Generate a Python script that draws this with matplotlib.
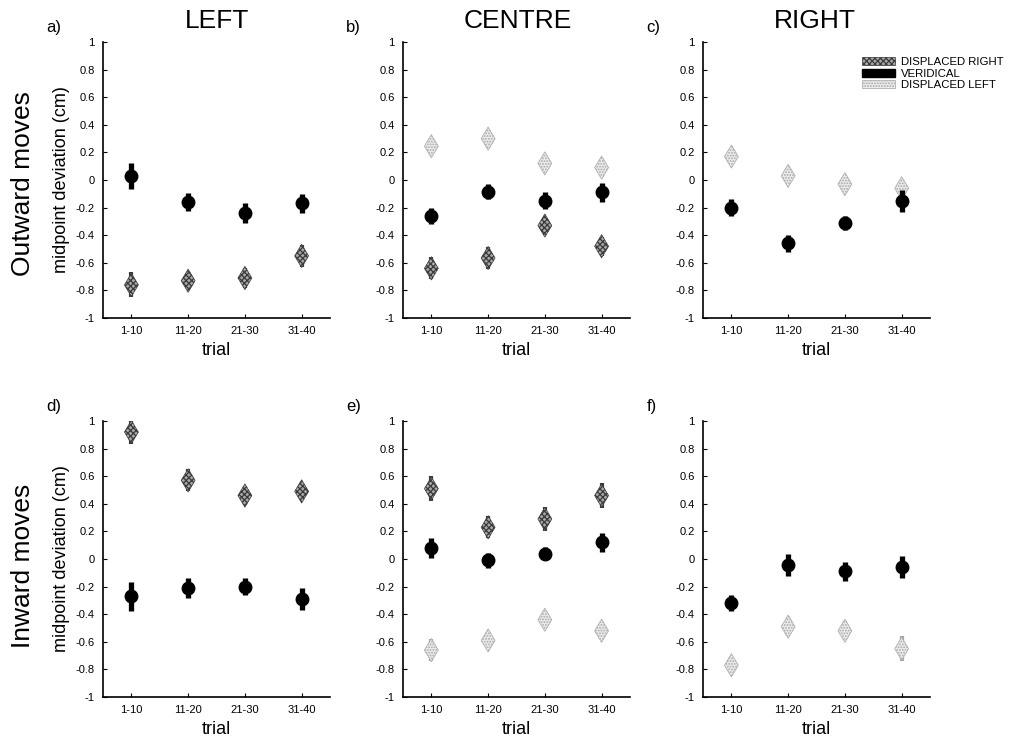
import numpy as np
import matplotlib
matplotlib.use("Agg")
import matplotlib.pyplot as plt
from matplotlib.patches import Patch

plt.rcParams["font.family"] = ["Liberation Sans", "DejaVu Sans"]
plt.rcParams["hatch.linewidth"] = 0.9


# DADOS

trials = ["1-10", "11-20", "21-30", "31-40"]
y_ticks = [1, 0.8, 0.6, 0.4, 0.2, 0, -0.2, -0.4, -0.6, -0.8, -1]
y_tick_labels = ["1", "0.8", "0.6", "0.4", "0.2", "0",
                 "-0.2", "-0.4", "-0.6", "-0.8", "-1"]

# a) outward, LEFT
a_right = [-0.76, -0.73, -0.71, -0.55]
a_right_err = [0.09, 0.06, 0.07, 0.08]
a_ver = [0.03, -0.16, -0.24, -0.17]
a_ver_err = [0.095, 0.065, 0.075, 0.07]

# b) outward, CENTRE
b_right = [-0.64, -0.565, -0.33, -0.48]
b_right_err = [0.08, 0.08, 0.05, 0.07]
b_ver = [-0.26, -0.085, -0.15, -0.09]
b_ver_err = [0.06, 0.055, 0.06, 0.07]
b_left = [0.245, 0.30, 0.12, 0.09]
b_left_err = [0.06, 0.065, 0.055, 0.065]

# c) outward, RIGHT
c_ver = [-0.20, -0.46, -0.31, -0.15]
c_ver_err = [0.06, 0.06, 0.05, 0.08]
c_left = [0.17, 0.03, -0.03, -0.06]
c_left_err = [0.05, 0.04, 0.05, 0.06]

# d) inward, LEFT
d_right = [0.92, 0.57, 0.46, 0.49]
d_right_err = [0.09, 0.08, 0.07, 0.06]
d_ver = [-0.27, -0.21, -0.20, -0.29]
d_ver_err = [0.105, 0.07, 0.06, 0.08]

# e) inward, CENTRE
e_right = [0.51, 0.23, 0.29, 0.46]
e_right_err = [0.09, 0.08, 0.09, 0.09]
e_ver = [0.08, -0.01, 0.04, 0.12]
e_ver_err = [0.07, 0.055, 0.05, 0.07]
e_left = [-0.66, -0.59, -0.44, -0.52]
e_left_err = [0.08, 0.06, 0.06, 0.06]

# f) inward, RIGHT
f_ver = [-0.32, -0.04, -0.09, -0.06]
f_ver_err = [0.06, 0.08, 0.07, 0.08]
f_left = [-0.77, -0.49, -0.52, -0.65]
f_left_err = [0.06, 0.07, 0.07, 0.09]


# ESTILOS

cor_dr = "#3a3a3a"
fundo_dr = "#a8a8a8"
cor_dl = "#a8a8a8"
fundo_dl = "#ececec"

paineis = [
    ("a)", [0.1018, 0.5714, 0.2243, 0.372], a_right, a_right_err, a_ver, a_ver_err, None, None),
    ("b)", [0.3982, 0.5714, 0.2243, 0.372], b_right, b_right_err, b_ver, b_ver_err, b_left, b_left_err),
    ("c)", [0.6947, 0.5714, 0.2243, 0.372], None, None, c_ver, c_ver_err, c_left, c_left_err),
    ("d)", [0.1018, 0.0606, 0.2243, 0.372], d_right, d_right_err, d_ver, d_ver_err, None, None),
    ("e)", [0.3982, 0.0606, 0.2243, 0.372], e_right, e_right_err, e_ver, e_ver_err, e_left, e_left_err),
    ("f)", [0.6947, 0.0606, 0.2243, 0.372], None, None, f_ver, f_ver_err, f_left, f_left_err),
]


def deslocado(ax, x, y, err, cor, fundo, hatch):
    ax.errorbar(x, y, yerr=err, fmt="none", ecolor=cor,
                elinewidth=3, capsize=0, linestyle=(0, (1, 1)), zorder=2)
    ax.scatter(x, y, s=140, marker="d", facecolor=fundo,
               edgecolor=cor, hatch=hatch, linewidth=0.5, zorder=3)


fig = plt.figure(figsize=(10.12, 7.42), dpi=100)

x = np.arange(1, len(trials) + 1)

for i, (letra, pos, dr, dr_err, ver, ver_err, dl, dl_err) in enumerate(paineis):
    ax = fig.add_axes(pos)

    if dr is not None:
        deslocado(ax, x, dr, dr_err, cor_dr, fundo_dr, "xxxxxx")
    if dl is not None:
        deslocado(ax, x, dl, dl_err, cor_dl, fundo_dl, "......")

    ax.errorbar(x, ver, yerr=ver_err, fmt="o", color="black",
                markersize=9, elinewidth=3.8, capsize=0, zorder=4)

    ax.set_xlim(0.5, 4.5)
    ax.set_ylim(-1, 1)
    ax.set_xticks(x)
    ax.set_xticklabels(trials, fontsize=8)
    ax.set_yticks(y_ticks)
    ax.set_yticklabels(y_tick_labels, fontsize=8)
    ax.tick_params(direction="in", length=3, width=0.8, pad=6)
    ax.spines["top"].set_visible(False)
    ax.spines["right"].set_visible(False)
    ax.spines["left"].set_linewidth(1.2)
    ax.spines["bottom"].set_linewidth(1.2)
    ax.set_xlabel("trial", fontsize=13, labelpad=4)

    if i % 3 == 0:
        ax.set_ylabel("midpoint deviation (cm)", fontsize=13, labelpad=4)

    fig.text(pos[0] - 0.056, pos[1] + pos[3] + 0.02, letra,
             fontsize=12, va="center", ha="left")

    if i == 2:
        handles = [
            Patch(facecolor=fundo_dr, edgecolor=cor_dr, hatch="xxxxxx", linewidth=0.5),
            Patch(facecolor="black", edgecolor="black"),
            Patch(facecolor=fundo_dl, edgecolor=cor_dl, hatch="......", linewidth=0.5),
        ]
        ax.legend(handles, ["DISPLACED RIGHT", "VERIDICAL", "DISPLACED LEFT"],
                  loc="upper left", bbox_to_anchor=(0.7, 0.945),
                  frameon=False, fontsize=8.2, handlelength=2.9,
                  handleheight=0.7, handletextpad=0.5, labelspacing=0.12,
                  borderpad=0, borderaxespad=0)


# TÍTULOS

fig.text(0.2144, 0.972, "LEFT", fontsize=19, ha="center", va="center")
fig.text(0.512, 0.972, "CENTRE", fontsize=19, ha="center", va="center")
fig.text(0.805, 0.972, "RIGHT", fontsize=19, ha="center", va="center")

fig.text(0.0227, 0.752, "Outward moves", fontsize=19, rotation=90,
         ha="center", va="center")
fig.text(0.0227, 0.238, "Inward moves", fontsize=19, rotation=90,
         ha="center", va="center")

fig.savefig("out.png", dpi=100)
